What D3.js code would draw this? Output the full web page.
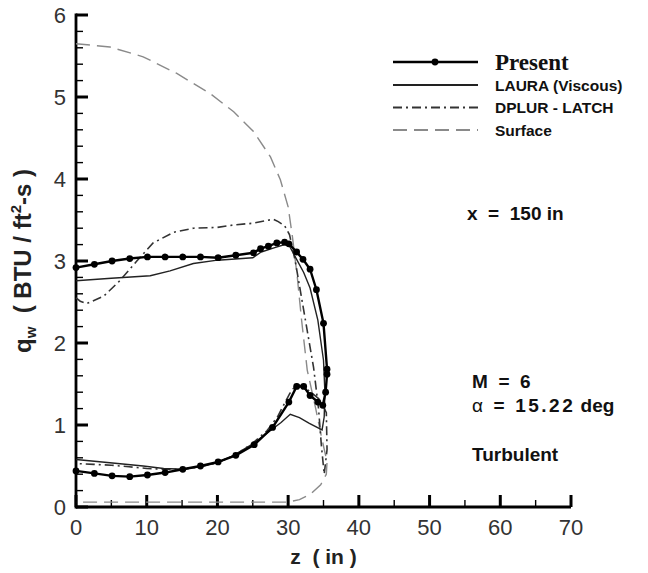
<!DOCTYPE html>
<html>
<head>
<meta charset="utf-8">
<script src="https://cdn.jsdelivr.net/npm/d3@7"></script>
<style>
  body { margin: 0; background: #fff; }
</style>
</head>
<body>
<svg id="chart"></svg>
<script>
// values: [z (in), q_w (BTU/ft2-s)]
const present = [
  [0,2.92],[2.6,2.96],[5.1,3.0],[7.6,3.03],[10.1,3.05],[12.6,3.05],[15.1,3.05],[17.6,3.05],
  [20.1,3.04],[22.6,3.07],[25.1,3.1],[26.1,3.15],[27.2,3.18],[28.4,3.22],[29.5,3.23],[30.1,3.21],
  [31.2,3.11],[32.1,3.02],[33.1,2.9],[34.0,2.65],[35.0,2.24],[35.5,1.68],[35.5,1.62],[35.3,1.4],
  [34.9,1.24],[34.2,1.28],[33.1,1.36],[32.2,1.47],[31.2,1.47],[30.1,1.28],[27.8,0.97],[25.2,0.76],
  [22.6,0.63],[20.1,0.55],[17.6,0.5],[15.1,0.46],[12.6,0.42],[10.1,0.39],[7.6,0.37],[5.1,0.38],
  [2.6,0.41],[0,0.44]
];
const laura = [
  [0,2.76],[5,2.79],[10.5,2.82],[13.3,2.88],[16.6,2.97],[20,3.01],[25,3.04],[26.2,3.11],
  [28,3.16],[29.5,3.2],[30.2,3.18],[31.2,3.02],[32.2,2.86],[33.1,2.67],[34.2,2.28],[35.0,1.79],
  [35.2,1.4],[35.1,1.1],[34.8,0.94],[33,1.02],[31.6,1.09],[30.3,1.13],[29,1.03],[27,0.9],
  [25,0.77],[22.3,0.63],[20,0.54],[18,0.5],[15.2,0.46],[12.4,0.47],[9.5,0.5],[4.8,0.54],[0,0.58]
];
const dplur = [
  [0,2.55],[0.6,2.51],[1.5,2.48],[3.9,2.57],[6.2,2.76],[8.6,3.0],[10.9,3.22],[13.8,3.35],
  [16.6,3.4],[20,3.41],[22.3,3.44],[25,3.46],[27.9,3.51],[28.6,3.48],[29.5,3.43],[30.2,3.32],
  [31,3.0],[32,2.5],[33,2.0],[33.6,1.7],[34.3,1.2],[34.7,0.75],[35.1,0.4],[35.5,0.7],
  [35.4,1.15],[34.6,1.3],[33.5,1.38],[32.3,1.46],[31.2,1.5],[30.2,1.38],[28.5,1.1],[27,0.93],
  [25,0.78],[22.5,0.63],[20,0.54],[17.5,0.49],[15,0.46],[12.5,0.46],[10,0.47],[7.5,0.49],
  [5,0.51],[2.5,0.52],[0,0.53]
];
const surface = [
  [0,5.65],[4.8,5.61],[9.5,5.49],[14.2,5.29],[19,5.04],[22.3,4.82],[25.1,4.58],[27.5,4.27],
  [28.9,3.99],[30,3.66],[30.6,3.3],[31.3,2.8],[31.9,2.28],[32.7,1.67],[33.9,1.2],[34.7,0.86],
  [35.5,0.55],[35.4,0.4],[34.6,0.27],[33.2,0.16],[31.6,0.09],[30,0.06],[0,0.06]
];
const xTicks = [0,10,20,30,40,50,60,70];
const xMinor = [5,15,25,35,45,55,65];
const yTicks = [0,1,2,3,4,5,6];
const yMinor = [0.2,0.4,0.6,0.8,1.2,1.4,1.6,1.8,2.2,2.4,2.6,2.8,3.2,3.4,3.6,3.8,4.2,4.4,4.6,4.8,5.2,5.4,5.6,5.8];

let width = 648;
let height = 573;

let svg = d3.select('#chart')
  .attr('width', width)
  .attr('height', height)
  .attr('font-family', "Arial, 'Liberation Sans', sans-serif");

let x = d3.scaleLinear().domain([0, 70]).range([76, 571]);
let y = d3.scaleLinear().domain([0, 6]).range([507, 15]);

let axes = svg.append("g").attr("class", "axes");

// ticks point into the plot
axes.selectAll("line.xminor").data(xMinor).enter().append("line")
  .attr("class", "xminor")
  .attr("x1", d => x(d)).attr("x2", d => x(d))
  .attr("y1", y(0)).attr("y2", y(0) - 7)
  .attr("stroke", "#000").attr("stroke-width", 1.4);
axes.selectAll("line.xmajor").data(xTicks).enter().append("line")
  .attr("class", "xmajor")
  .attr("x1", d => x(d)).attr("x2", d => x(d))
  .attr("y1", y(0)).attr("y2", y(0) - 12)
  .attr("stroke", "#000").attr("stroke-width", 3);
axes.selectAll("line.yminor").data(yMinor).enter().append("line")
  .attr("class", "yminor")
  .attr("x1", x(0)).attr("x2", x(0) + 7)
  .attr("y1", d => y(d)).attr("y2", d => y(d))
  .attr("stroke", "#000").attr("stroke-width", 1.4);
axes.selectAll("line.ymajor").data(yTicks).enter().append("line")
  .attr("class", "ymajor")
  .attr("x1", x(0)).attr("x2", x(0) + 12)
  .attr("y1", d => y(d)).attr("y2", d => y(d))
  .attr("stroke", "#000").attr("stroke-width", 3);

axes.append("line")
  .attr("x1", x(0)).attr("x2", x(70))
  .attr("y1", y(0)).attr("y2", y(0))
  .attr("stroke", "#000").attr("stroke-width", 2.8);
axes.append("line")
  .attr("x1", x(0)).attr("x2", x(0))
  .attr("y1", y(0) + 1.4).attr("y2", y(6) - 1.5)
  .attr("stroke", "#000").attr("stroke-width", 2.8);

axes.selectAll("text.xlab").data(xTicks).enter().append("text")
  .attr("class", "xlab")
  .attr("x", d => x(d))
  .attr("y", y(0) + 28)
  .attr("text-anchor", "middle")
  .attr("font-size", 22)
  .attr("fill", "#333")
  .text(d => d);

axes.selectAll("text.ylab").data(yTicks).enter().append("text")
  .attr("class", "ylab")
  .attr("x", x(0) - 10)
  .attr("y", d => y(d) + 8)
  .attr("text-anchor", "end")
  .attr("font-size", 22)
  .attr("fill", "#333")
  .text(d => d);

let line = d3.line()
  .x(d => x(d[0]))
  .y(d => y(d[1]));

svg.append("path")
  .datum(surface)
  .attr("fill", "none")
  .attr("stroke", "#8a8a8a")
  .attr("stroke-width", 1.4)
  .attr("stroke-dasharray", "14,7")
  .attr("d", line);

svg.append("path")
  .datum(dplur)
  .attr("fill", "none")
  .attr("stroke", "#333")
  .attr("stroke-width", 1.6)
  .attr("stroke-dasharray", "9,4,2,4")
  .attr("d", line);

svg.append("path")
  .datum(laura)
  .attr("fill", "none")
  .attr("stroke", "#222")
  .attr("stroke-width", 1.4)
  .attr("d", line);

svg.append("path")
  .datum(present)
  .attr("fill", "none")
  .attr("stroke", "#000")
  .attr("stroke-width", 2.4)
  .attr("d", line);

svg.append("g")
  .selectAll("circle")
  .data(present)
  .enter()
  .append("circle")
    .attr("cx", d => x(d[0]))
    .attr("cy", d => y(d[1]))
    .attr("r", 3.4)
    .attr("fill", "#000");

// axis titles
svg.append("text")
  .attr("x", (x(0) + x(70)) / 2)
  .attr("y", 564)
  .attr("text-anchor", "middle")
  .attr("font-size", 21)
  .attr("font-weight", "bold")
  .attr("fill", "#222")
  .style("white-space", "pre")
  .text("z  ( in )");

let yTitle = svg.append("text")
  .attr("transform", `translate(31,${(y(0) + y(6)) / 2}) rotate(-90)`)
  .attr("text-anchor", "middle")
  .attr("font-size", 24)
  .attr("font-weight", "bold")
  .attr("fill", "#222")
  .style("white-space", "pre");
yTitle.append("tspan").text("q");
yTitle.append("tspan").attr("font-size", 15).attr("dy", 5).text("w");
yTitle.append("tspan").attr("dy", -5).text("  ( BTU / ft");
yTitle.append("tspan").attr("font-size", 15).attr("dy", -10).text("2");
yTitle.append("tspan").attr("dy", 10).text("-s )");

// legend
let legend = [
  {name: "Present", dash: null, color: "#000", w: 2.4, serif: true},
  {name: "LAURA (Viscous)", dash: null, color: "#222", w: 2.2},
  {name: "DPLUR - LATCH", dash: "9,4,2,4", color: "#333", w: 2},
  {name: "Surface", dash: "14,7", color: "#8a8a8a", w: 1.8}
];
let legendY = [62, 85, 107.5, 130];
legend.forEach((d, i) => {
  svg.append("line")
    .attr("x1", 393).attr("x2", 478)
    .attr("y1", legendY[i]).attr("y2", legendY[i])
    .attr("stroke", d.color)
    .attr("stroke-width", d.w)
    .attr("stroke-dasharray", d.dash);
  if (i === 0) {
    svg.append("circle").attr("cx", 435).attr("cy", legendY[i]).attr("r", 3.4).attr("fill", "#000");
  }
  svg.append("text")
    .attr("x", 495)
    .attr("y", legendY[i] + (d.serif ? 7.5 : 5.8))
    .attr("font-size", d.serif ? 23 : 15.5)
    .attr("font-weight", "bold")
    .attr("font-family", d.serif ? "'Times New Roman', 'Liberation Serif', serif" : null)
    .attr("fill", "#111")
    .text(d.name);
});

// annotations
function note(xp, yp, parts) {
  let t = svg.append("text")
    .attr("x", xp).attr("y", yp)
    .attr("font-size", 19)
    .attr("font-weight", "bold")
    .attr("fill", "#111")
    .style("white-space", "pre");
  parts.forEach(p => t.append("tspan")
    .attr("font-weight", p[1] || "bold")
    .attr("letter-spacing", p[2] || null)
    .text(p[0]));
}
note(467, 220, [["x  =  150 in"]]);
note(472, 388, [["M  =  6"]]);
note(472, 412, [["α", "normal"], ["  =  "], ["15.22", "bold", 2.5], [" deg"]]);
note(472, 461, [["Turbulent"]]);
</script>
</body>
</html>
